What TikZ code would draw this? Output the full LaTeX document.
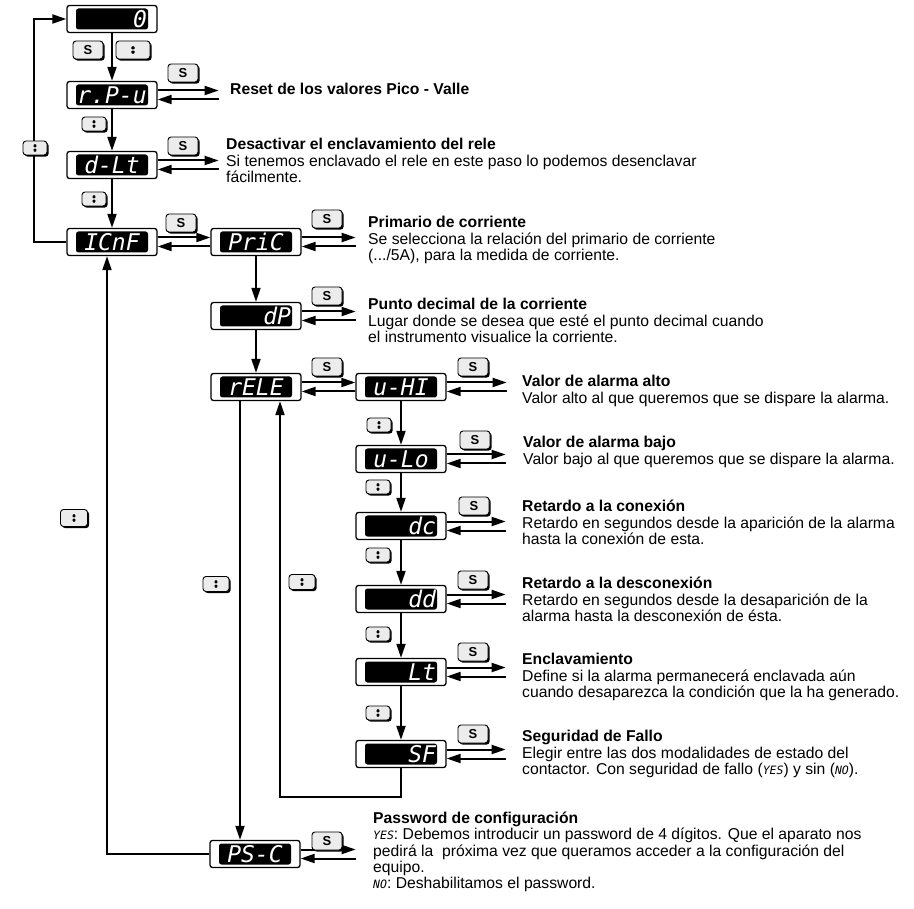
\documentclass[tikz,border=0pt]{standalone}
\usepackage{fontspec}
\setmainfont{Liberation Sans}
\newfontfamily\segfont{DejaVu Sans Mono}
\usetikzlibrary{arrows.meta,shadows,calc}
\newcommand\segdisp{\segfont\itshape\fontsize{23}{23}\selectfont}
\newcommand\segin[1]{{\segfont\itshape\fontsize{11.5}{11.5}\selectfont #1}}
\newcommand\descfont{\fontsize{15.7}{16.6}\selectfont}
\newcommand\dblarr[3]{%
  \draw[arr] ([yshift=4.5pt]#1.east) -- ++(#2,0) coordinate (#3o);
  \path ([yshift=-4.5pt]#1.east) ++(#2,0) coordinate (#3i);
  \draw[arr] (#3i) -- ([yshift=-4.5pt]#1.east);}
\tikzset{
  arr/.style={line width=2pt,-{Triangle[length=14pt,width=9pt]}},
  disp/.style={draw,line width=1.3pt,rounded corners=2.5pt,fill=white,
    minimum width=90pt,minimum height=27pt,inner sep=0pt,text=white,
    text width=70pt,align=right,font=\segdisp,
    path picture={\fill[black] ([xshift=9pt,yshift=-3pt]path picture bounding box.north west)
      rectangle ([xshift=-9pt,yshift=3pt]path picture bounding box.south east);}},
  dispc/.style={disp,align=center},
  sbtn/.style={draw,line width=0.9pt,rounded corners=3pt,fill=gray!15,
    minimum width=30pt,minimum height=18pt,inner sep=0pt,
    font=\bfseries\fontsize{13}{13}\selectfont,
    drop shadow={shadow xshift=1.6pt,shadow yshift=-1.6pt,opacity=1,fill=black}},
  updn/.style={path picture={
      \fill[black,shift={(path picture bounding box.center)}] (-#1,0.5pt) -- (#1,0.5pt) -- (0pt,5.5pt) -- cycle;
      \fill[black,shift={(path picture bounding box.center)}] (-#1,-0.5pt) -- (#1,-0.5pt) -- (0pt,-5.5pt) -- cycle;}},
  ubtn/.style={sbtn,minimum width=24pt,minimum height=14pt,updn=2.8pt},
  desc/.style={anchor=north west,inner sep=0pt,align=left,font=\descfont,
    execute at begin node={\rule{0pt}{12pt}}}
}
\begin{document}
\begin{tikzpicture}[x=1pt,y=-1pt]
\useasboundingbox (0,0) rectangle (914,909);
% displays
\node[disp]  (B0)   at (112,19)  {0};
\node[dispc] (rPu)  at (112,95)  {r.P-u};
\node[dispc] (dLt)  at (112,165) {d-Lt};
\node[dispc] (ICnF) at (112,242) {ICnF};
\node[dispc] (PriC) at (256,242) {PriC};
\node[disp]  (dP)   at (256,316) {dP};
\node[dispc] (rELE) at (256,387) {rELE};
\node[dispc] (uHI)  at (401,387) {u-HI};
\node[dispc] (uLo)  at (401,459) {u-Lo};
\node[disp]  (dc)   at (401,526) {dc};
\node[disp]  (dd)   at (401,599) {dd};
\node[disp]  (Lt)   at (401,672) {Lt};
\node[disp]  (SF)   at (401,754) {SF};
\node[dispc] (PSC)  at (255,854) {PS-C};
% vertical flow
\draw[arr] (B0.south) -- (rPu.north);
\draw[arr] (rPu.south) -- (dLt.north);
\draw[arr] (dLt.south) -- (ICnF.north);
\draw[arr] (PriC.south) -- (dP.north);
\draw[arr] (dP.south) -- (rELE.north);
\draw[arr] (uHI.south) -- (uLo.north);
\draw[arr] (uLo.south) -- (dc.north);
\draw[arr] (dc.south) -- (dd.north);
\draw[arr] (dd.south) -- (Lt.north);
\draw[arr] (Lt.south) -- (SF.north);
% loops
\draw[arr] (ICnF.west) -- ++(-32,0) |- (B0.west);
\draw[arr] (PSC.west) -| ([xshift=-5pt]ICnF.south);
\draw[arr] ([xshift=-16pt]rELE.south) -- ([xshift=-16pt]rELE.south |- PSC.north);
\draw[arr] (SF.south) -- ++(0,29) -| ([xshift=24pt]rELE.south);
% horizontal pairs between nodes
\draw[arr] ([yshift=4.5pt]ICnF.east) -- ([yshift=4.5pt]PriC.west);
\draw[arr] ([yshift=-4.5pt]PriC.west) -- ([yshift=-4.5pt]ICnF.east);
\draw[arr] ([yshift=4.5pt]rELE.east) -- ([yshift=4.5pt]uHI.west);
\draw[arr] ([yshift=-4.5pt]uHI.west) -- ([yshift=-4.5pt]rELE.east);
% double arrows to descriptions
\dblarr{rPu}{61}{a1}
\dblarr{dLt}{61}{a2}
\dblarr{PriC}{54}{a3}
\dblarr{dP}{54}{a4}
\dblarr{uHI}{60}{a5}
\dblarr{uLo}{59}{a6}
\dblarr{dc}{59}{a7}
\dblarr{dd}{59}{a8}
\dblarr{Lt}{59}{a9}
\dblarr{SF}{59}{a10}
\dblarr{PSC}{55}{a11}
% buttons
\node[sbtn] (s0) at (88,50) {S};
\node[sbtn,minimum width=34pt,minimum height=18pt,updn=3pt] (u1) at (133,50) {};
\node[sbtn] (s1) at (183,73) {S};
\node[ubtn] (u2) at (94,124) {};
\node[sbtn] (s2) at (183,146) {S};
\node[ubtn] (u3) at (94,199) {};
\node[ubtn] (u0) at (35,148) {};
\node[sbtn] (s3) at (181,223) {S};
\node[sbtn] (s4) at (327,219) {S};
\node[sbtn] (s5) at (327,296) {S};
\node[sbtn] (s6) at (327,367) {S};
\node[sbtn] (s7) at (473,367) {S};
\node[ubtn] (u4) at (379,425) {};
\node[sbtn] (s8) at (475,440) {S};
\node[ubtn] (u5) at (378,487) {};
\node[sbtn] (s9) at (474,506) {S};
\node[ubtn] (u6) at (378,555) {};
\node[sbtn] (s10) at (473,580) {S};
\node[ubtn] (u7) at (378,634) {};
\node[sbtn] (s11) at (473,652) {S};
\node[ubtn] (u8) at (378,713) {};
\node[sbtn] (s12) at (473,734) {S};
\node[sbtn] (s13) at (327,841) {S};
\node[ubtn,minimum width=27pt,minimum height=17pt] (u9) at (74,518) {};
\node[ubtn,minimum width=26pt,minimum height=15pt] (u10) at (216,584) {};
\node[ubtn,minimum width=26pt,minimum height=15pt] (u11) at (302,582) {};
% descriptions
\node[desc] (t1) at (230,82) {\bfseries Reset de los valores Pico - Valle};
\node[desc] (t2) at (226,138) {\textbf{Desactivar el enclavamiento del rele}\\Si tenemos enclavado el rele en este paso lo podemos desenclavar\\fácilmente.};
\node[desc] (t3) at (368,216) {\textbf{Primario de corriente}\\Se selecciona la relación del primario de corriente\\(.../5A), para la medida de corriente.};
\node[desc] (t4) at (368,298) {\textbf{Punto decimal de la corriente}\\Lugar donde se desea que esté el punto decimal cuando\\el instrumento visualice la corriente.};
\node[desc] (t5) at (522,375) {\textbf{Valor de alarma alto}\\Valor alto al que queremos que se dispare la alarma.};
\node[desc] (t6) at (523,436) {\textbf{Valor de alarma bajo}\\Valor bajo al que queremos que se dispare la alarma.};
\node[desc] (t7) at (522,500) {\textbf{Retardo a la conexión}\\Retardo en segundos desde la aparición de la alarma\\hasta la conexión de esta.};
\node[desc] (t8) at (522,577) {\textbf{Retardo a la desconexión}\\Retardo en segundos desde la desaparición de la\\alarma hasta la desconexión de ésta.};
\node[desc] (t9) at (522,653) {\textbf{Enclavamiento}\\Define si la alarma permanecerá enclavada aún\\cuando desaparezca la condición que la ha generado.};
\node[desc] (t10) at (522,730) {\textbf{Seguridad de Fallo}\\Elegir entre las dos modalidades de estado del\\contactor. Con seguridad de fallo (\segin{YES}) y sin (\segin{NO}).};
\node[desc,font=\fontsize{15.7}{16.2}\selectfont] (t11) at (373,812) {\textbf{Password de configuración}\\\segin{YES}: Debemos introducir un password de 4 dígitos. Que el aparato nos\\pedirá la\ \ próxima vez que queramos acceder a la configuración del\\equipo.\\\segin{NO}: Deshabilitamos el password.};
\end{tikzpicture}
\end{document}
